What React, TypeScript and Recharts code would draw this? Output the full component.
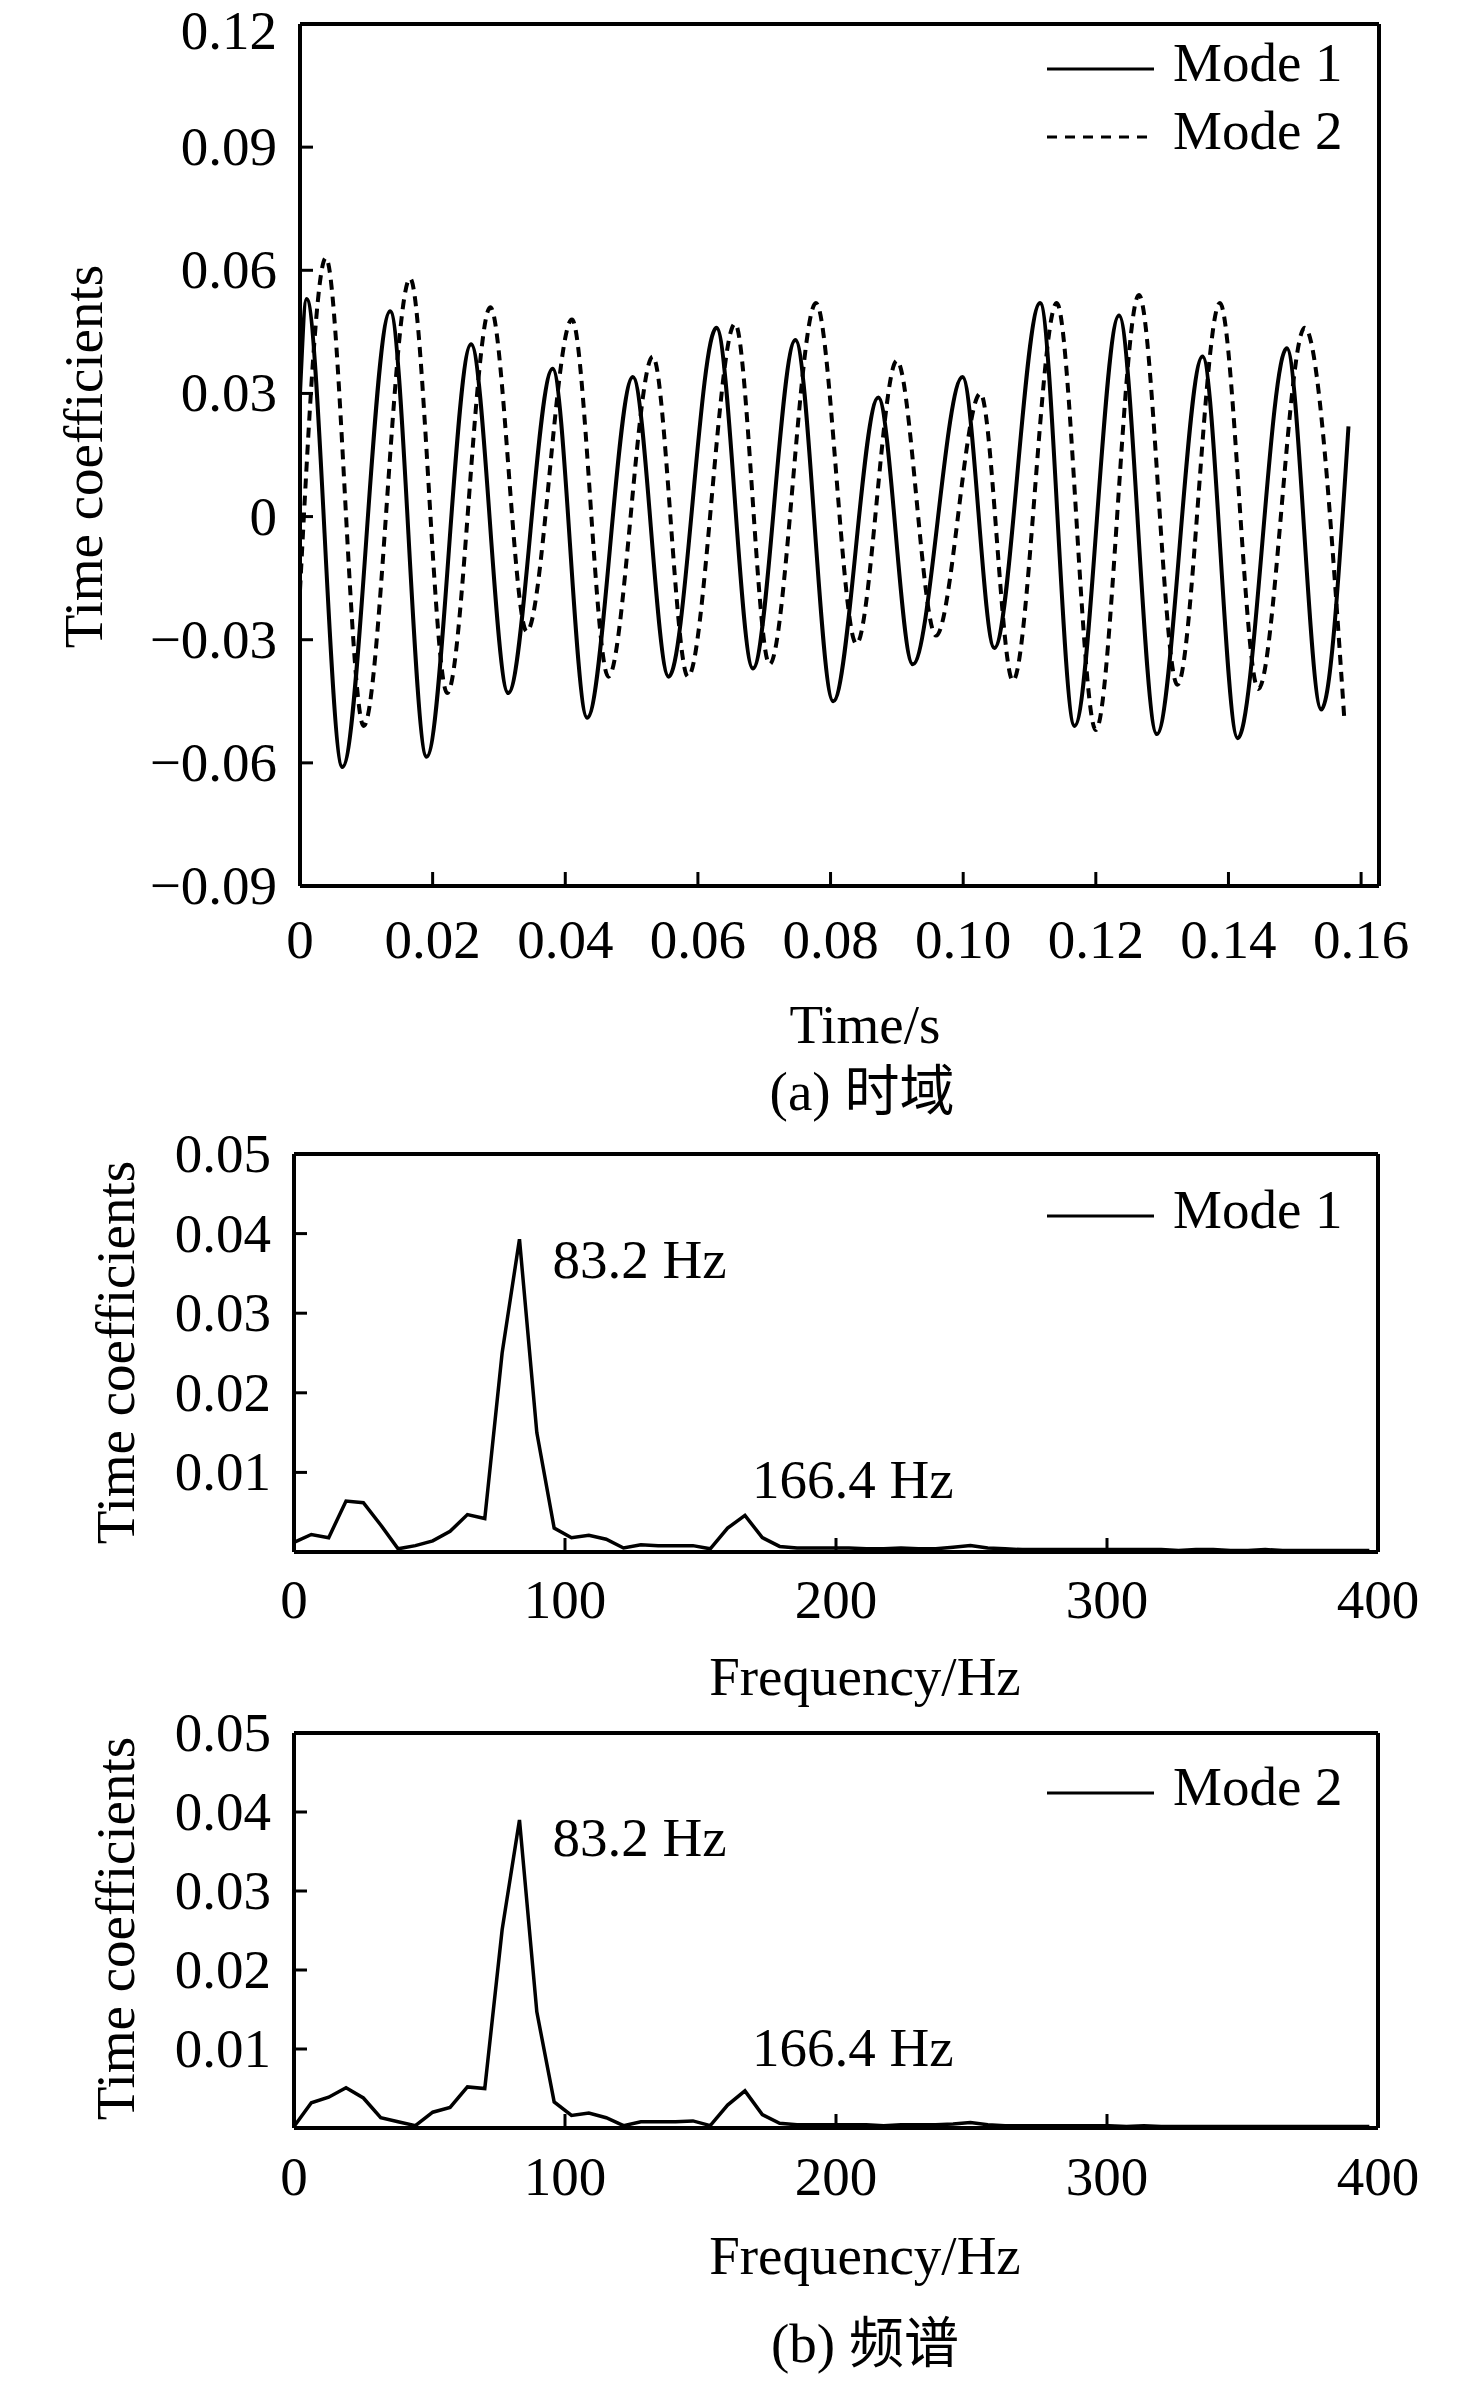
import { Legend, Line, LineChart, ReferenceDot, XAxis, YAxis } from "recharts";

const SERIF = "'Liberation Serif', 'Times New Roman', serif";
const CJK = "'Liberation Serif', 'Noto Sans CJK SC', serif";
const INK = "#000";

// time domain: peaks / troughs (s, coefficient)
const MODE1_TIME = [
  0, 0.001, 0.0064, 0.0136, 0.0191, 0.0258, 0.0314, 0.0381, 0.0433, 0.0502, 0.0556, 0.0628, 0.0683, 0.0747,
  0.0804, 0.0872, 0.0924, 0.0999, 0.1047, 0.1116, 0.1168, 0.1235, 0.1292, 0.1361, 0.1414, 0.1488, 0.154, 0.1581,
];
const MODE1_COEF = [
  0.03, 0.053, -0.061, 0.05, -0.0585, 0.042, -0.043, 0.036, -0.049, 0.034, -0.039, 0.046, -0.037, 0.043,
  -0.045, 0.029, -0.036, 0.034, -0.032, 0.052, -0.051, 0.049, -0.053, 0.039, -0.054, 0.041, -0.047, 0.022,
];
const MODE2_TIME = [
  0, 0.0039, 0.0096, 0.0166, 0.0222, 0.0287, 0.0342, 0.041, 0.0465, 0.0532, 0.0585, 0.0656, 0.0708, 0.0778,
  0.0839, 0.09, 0.0959, 0.1026, 0.1075, 0.1141, 0.12, 0.1265, 0.1323, 0.1387, 0.1445, 0.1515, 0.1575,
];
const MODE2_COEF = [
  -0.018, 0.063, -0.051, 0.058, -0.043, 0.051, -0.028, 0.048, -0.039, 0.039, -0.039, 0.047, -0.036, 0.052,
  -0.031, 0.038, -0.029, 0.03, -0.04, 0.052, -0.052, 0.054, -0.041, 0.052, -0.042, 0.046, -0.05,
];

// spectra (Hz bins, amplitude)
const FREQ_HZ = [
  0, 6.4, 12.8, 19.2, 25.6, 32, 38.4, 44.8, 51.2, 57.6, 64, 70.4, 76.8, 83.2, 89.6, 96, 102.4, 108.8, 115.2, 121.6,
  128, 134.4, 140.8, 147.2, 153.6, 160, 166.4, 172.8, 179.2, 185.6, 192, 198.4, 204.8, 211.2, 217.6, 224, 230.4,
  236.8, 243.2, 249.6, 256, 262.4, 268.8, 275.2, 281.6, 288, 294.4, 300.8, 307.2, 313.6, 320, 326.4, 332.8, 339.2,
  345.6, 352, 358.4, 364.8, 371.2, 377.6, 384, 390.4, 396.8,
];
const SPEC_MODE1 = [
  0.0012, 0.0022, 0.0018, 0.0064, 0.0062, 0.0034, 0.0004, 0.0008, 0.0014, 0.0026, 0.0047, 0.0042, 0.025, 0.0393,
  0.015, 0.003, 0.0018, 0.0021, 0.0016, 0.0005, 0.0009, 0.0008, 0.0008, 0.0008, 0.0004, 0.003, 0.0046, 0.0018,
  0.0007, 0.0005, 0.0005, 0.0005, 0.0005, 0.0004, 0.0004, 0.0005, 0.0004, 0.0004, 0.0006, 0.0008, 0.0005, 0.0004,
  0.0003, 0.0003, 0.0003, 0.0003, 0.0003, 0.0003, 0.0003, 0.0003, 0.0003, 0.0002, 0.0003, 0.0003, 0.0002, 0.0002,
  0.0003, 0.0002, 0.0002, 0.0002, 0.0002, 0.0002, 0.0002,
];
const SPEC_MODE2 = [
  0.0002, 0.0032, 0.0039, 0.0051, 0.0038, 0.0013, 0.0008, 0.0003, 0.002, 0.0026, 0.0052, 0.005, 0.0251, 0.039,
  0.0147, 0.0033, 0.0016, 0.0019, 0.0013, 0.0003, 0.0008, 0.0008, 0.0008, 0.0009, 0.0003, 0.0029, 0.0047, 0.0017,
  0.0006, 0.0004, 0.0004, 0.0004, 0.0004, 0.0004, 0.0003, 0.0004, 0.0004, 0.0004, 0.0005, 0.0007, 0.0004, 0.0003,
  0.0003, 0.0003, 0.0003, 0.0003, 0.0003, 0.0003, 0.0002, 0.0003, 0.0002, 0.0002, 0.0002, 0.0002, 0.0002, 0.0002,
  0.0002, 0.0002, 0.0002, 0.0002, 0.0002, 0.0002, 0.0002,
];
const PEAKS_HZ = [83.2, 166.4];

const TIME_X_TICKS = [0, 0.02, 0.04, 0.06, 0.08, 0.1, 0.12, 0.14, 0.16];
const TIME_Y_TICKS = [-0.09, -0.06, -0.03, 0, 0.03, 0.06, 0.09, 0.12];
const FREQ_X_TICKS = [0, 100, 200, 300, 400];
const FREQ_Y_TICKS = [0.01, 0.02, 0.03, 0.04, 0.05];

const zip = (xs: number[], ys: number[]) => xs.map((x, i) => ({ x, y: ys[i] }));

const fmtCoef = (v: number) => (v === 0 ? "0" : v < 0 ? `\u2212${Math.abs(v).toFixed(2)}` : v.toFixed(2));

const FRAME = { stroke: INK, strokeWidth: 4 };

function XTick({ x, y, payload, fmt, baseline }: any) {
  return (
    <g>
      {payload.value !== 0 && <line x1={x} x2={x} y1={y} y2={y - 14} stroke={INK} strokeWidth={3} />}
      <text x={x} y={y + baseline} textAnchor="middle" fontFamily={SERIF} fontSize={55} fill={INK}>
        {fmt(payload.value)}
      </text>
    </g>
  );
}

function YTick({ x, y, payload, fmt }: any) {
  // keep the topmost label inside the page
  const base = Math.max(y + 18, 49);
  return (
    <g>
      <line x1={x} x2={x + 13} y1={y} y2={y} stroke={INK} strokeWidth={3} />
      <text x={x - 23} y={base} textAnchor="end" fontFamily={SERIF} fontSize={55} fill={INK}>
        {fmt(payload.value)}
      </text>
    </g>
  );
}

function LegendBox({ items, rowHeight = 64 }: { items: { name: string; dash?: string }[]; rowHeight?: number }) {
  return (
    <div>
      {items.map((item) => (
        <div key={item.name} style={{ display: "flex", height: rowHeight, alignItems: "flex-start" }}>
          <svg width={107} height={64} style={{ display: "block" }}>
            <line x1={0} x2={107} y1={38} y2={38} stroke={INK} strokeWidth={3} strokeDasharray={item.dash} />
          </svg>
          <span
            style={{ marginLeft: 19, fontFamily: SERIF, fontSize: 55, lineHeight: "64px", color: INK, whiteSpace: "nowrap" }}
          >
            {item.name}
          </span>
        </div>
      ))}
    </div>
  );
}

function PeakLabel({ viewBox, text, dx, dy }: any) {
  const cx = viewBox.x + (viewBox.width || 0) / 2;
  const cy = viewBox.y + (viewBox.height || 0) / 2;
  return (
    <text x={cx + dx} y={cy + dy} fontFamily={SERIF} fontSize={55} fill={INK}>
      {text}
    </text>
  );
}

function Caption({ text, cx, top, font = SERIF }: { text: string; cx: number; top: number; font?: string }) {
  return (
    <div
      style={{
        position: "absolute",
        left: cx - 400,
        top,
        width: 800,
        textAlign: "center",
        fontFamily: font,
        fontSize: 55,
        lineHeight: "55px",
        color: INK,
      }}
    >
      {text}
    </div>
  );
}

function VerticalTitle({ text, cx, cy }: { text: string; cx: number; cy: number }) {
  return (
    <div
      style={{
        position: "absolute",
        left: cx - 300,
        top: cy - 27,
        width: 600,
        height: 55,
        textAlign: "center",
        fontFamily: SERIF,
        fontSize: 55,
        lineHeight: "55px",
        color: INK,
        transform: "rotate(-90deg)",
      }}
    >
      {text}
    </div>
  );
}

// plot area: x 300..1379, y 24..886 (axes are 1px thick boxes so they render)
function TimeChart() {
  const mode1 = zip(MODE1_TIME, MODE1_COEF);
  const mode2 = zip(MODE2_TIME, MODE2_COEF);
  return (
    <LineChart width={1476} height={1000} margin={{ top: 23, right: 96, bottom: 113, left: 299 }}>
      <XAxis
        type="number"
        dataKey="x"
        domain={[0, 0.1627]}
        ticks={TIME_X_TICKS}
        height={1}
        tickSize={0}
        tickMargin={0}
        tickLine={false}
        axisLine={FRAME}
        tick={<XTick fmt={(v: number) => (v === 0 ? "0" : v.toFixed(2))} baseline={72} />}
        interval={0}
        allowDataOverflow
      />
      <XAxis xAxisId="top" orientation="top" type="number" domain={[0, 1]} height={1} tick={false} tickLine={false} axisLine={FRAME} />
      <YAxis
        type="number"
        domain={[-0.09, 0.12]}
        ticks={TIME_Y_TICKS}
        width={1}
        tickSize={0}
        tickMargin={0}
        tickLine={false}
        axisLine={FRAME}
        tick={<YTick fmt={fmtCoef} />}
        interval={0}
        allowDataOverflow
      />
      <YAxis yAxisId="right" orientation="right" type="number" domain={[0, 1]} width={1} tick={false} tickLine={false} axisLine={FRAME} />
      <Legend
        layout="horizontal"
        align="center"
        verticalAlign="middle"
        wrapperStyle={{ left: 1047, top: 31, width: 420, height: 136 }}
        content={() => <LegendBox rowHeight={68} items={[{ name: "Mode 1" }, { name: "Mode 2", dash: "10 8" }]} />}
      />
      <Line
        name="Mode 1"
        data={mode1}
        dataKey="y"
        type="monotone"
        stroke={INK}
        strokeWidth={4}
        dot={false}
        isAnimationActive={false}
      />
      <Line
        name="Mode 2"
        data={mode2}
        dataKey="y"
        type="monotone"
        stroke={INK}
        strokeWidth={4}
        strokeDasharray="10 7"
        dot={false}
        isAnimationActive={false}
      />
    </LineChart>
  );
}

function SpectrumChart({
  values,
  name,
  marginTop,
  marginBottom,
  xBaseline,
  legendTop,
  peakOffsets,
}: {
  values: number[];
  name: string;
  marginTop: number;
  marginBottom: number;
  xBaseline: number;
  legendTop: number;
  peakOffsets: { dx: number; dy: number }[];
}) {
  const data = zip(FREQ_HZ, values);
  return (
    <LineChart width={1476} height={560} margin={{ top: marginTop - 1, right: 97, bottom: marginBottom - 1, left: 293 }}>
      <XAxis
        type="number"
        dataKey="x"
        domain={[0, 400]}
        ticks={FREQ_X_TICKS}
        height={1}
        tickSize={0}
        tickMargin={0}
        tickLine={false}
        axisLine={FRAME}
        tick={<XTick fmt={(v: number) => String(v)} baseline={xBaseline} />}
        interval={0}
      />
      <XAxis xAxisId="top" orientation="top" type="number" domain={[0, 1]} height={1} tick={false} tickLine={false} axisLine={FRAME} />
      <YAxis
        type="number"
        domain={[0, 0.05]}
        ticks={FREQ_Y_TICKS}
        width={1}
        tickSize={0}
        tickMargin={0}
        tickLine={false}
        axisLine={FRAME}
        tick={<YTick fmt={(v: number) => v.toFixed(2)} />}
        interval={0}
        allowDataOverflow
      />
      <YAxis yAxisId="right" orientation="right" type="number" domain={[0, 1]} width={1} tick={false} tickLine={false} axisLine={FRAME} />
      <Legend
        layout="horizontal"
        align="center"
        verticalAlign="middle"
        wrapperStyle={{ left: 1047, top: legendTop, width: 420, height: 64 }}
        content={() => <LegendBox items={[{ name }]} />}
      />
      <Line
        name={name}
        data={data}
        dataKey="y"
        type="linear"
        stroke={INK}
        strokeWidth={3.5}
        dot={false}
        isAnimationActive={false}
      />
      {PEAKS_HZ.map((hz, i) => {
        const idx = FREQ_HZ.indexOf(hz);
        return (
          <ReferenceDot
            key={hz}
            x={hz}
            y={values[idx]}
            r={0}
            fill="none"
            stroke="none"
            ifOverflow="visible"
            label={<PeakLabel text={`${hz} Hz`} dx={peakOffsets[i].dx} dy={peakOffsets[i].dy} />}
          />
        );
      })}
    </LineChart>
  );
}

export default function App() {
  return (
    <div style={{ position: "relative", width: 1476, height: 2381, background: "#fff", overflow: "hidden" }}>
      <style>{"body{margin:0;background:#fff}"}</style>

      <div style={{ position: "absolute", left: 0, top: 0 }}>
        <TimeChart />
      </div>
      <VerticalTitle text="Time coefficients" cx={83} cy={456} />
      <Caption text="Time/s" cx={865} top={997} />
      <Caption text="(a) 时域" cx={862} top={1064} font={CJK} />

      <div style={{ position: "absolute", left: 0, top: 1100 }}>
        <SpectrumChart
          values={SPEC_MODE1}
          name="Mode 1"
          marginTop={54}
          marginBottom={108}
          xBaseline={66}
          legendTop={78}
          peakOffsets={[
            { dx: 33, dy: 39 },
            { dx: 7, dy: -17 },
          ]}
        />
      </div>
      <VerticalTitle text="Time coefficients" cx={115} cy={1352} />
      <Caption text="Frequency/Hz" cx={865} top={1649} />

      <div style={{ position: "absolute", left: 0, top: 1680 }}>
        <SpectrumChart
          values={SPEC_MODE2}
          name="Mode 2"
          marginTop={53}
          marginBottom={112}
          xBaseline={67}
          legendTop={75}
          peakOffsets={[
            { dx: 33, dy: 36 },
            { dx: 7, dy: -25 },
          ]}
        />
      </div>
      <VerticalTitle text="Time coefficients" cx={115} cy={1928} />
      <Caption text="Frequency/Hz" cx={865} top={2228} />
      <Caption text="(b) 频谱" cx={865} top={2316} font={CJK} />
    </div>
  );
}
